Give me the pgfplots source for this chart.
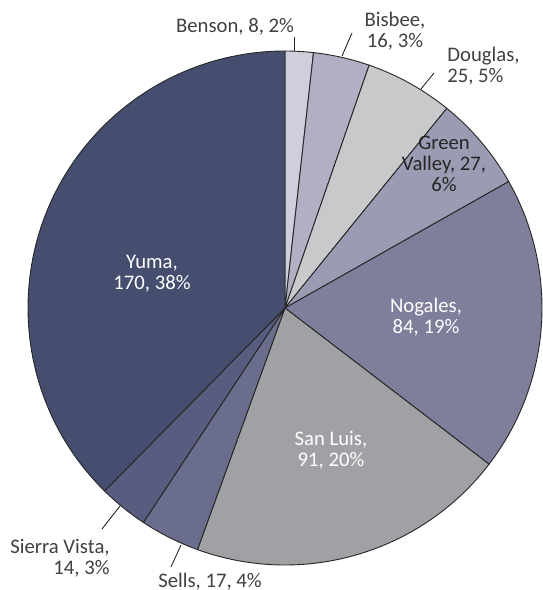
\documentclass[border=0pt]{standalone}
\usepackage{pgfplots}
\pgfplotsset{compat=1.18}
\usepackage{pgfplotstable}
\usepackage{fontspec}
\setmainfont{Carlito}

\definecolor{cBenson}{HTML}{CFCEDD}
\definecolor{cBisbee}{HTML}{B0AFC3}
\definecolor{cDouglas}{HTML}{C8C9CA}
\definecolor{cGreen}{HTML}{9B9BB3}
\definecolor{cNogales}{HTML}{7F7F9C}
\definecolor{cSanLuis}{HTML}{A0A1A4}
\definecolor{cSells}{HTML}{6B6D8C}
\definecolor{cSierra}{HTML}{585C7E}
\definecolor{cYuma}{HTML}{454E6F}
\definecolor{txt}{HTML}{404040}
\definecolor{edge}{HTML}{262626}

% clockwise from 12 o'clock
\pgfplotstableread{
value color
8   cBenson
16  cBisbee
25  cDouglas
27  cGreen
84  cNogales
91  cSanLuis
17  cSells
14  cSierra
170 cYuma
}\piedata

\begin{document}
\begin{tikzpicture}[font=\fontsize{10.35}{10.5}\selectfont]
\begin{axis}[
    name=ax,
    hide axis,
    scale only axis,
    width=271pt, height=295pt,
    xmin=0, xmax=542, ymin=0, ymax=590,
    clip=false,
]
\pgfplotsextra{
  \pgfplotstablegetrowsof{\piedata}
  \pgfmathtruncatemacro{\last}{\pgfplotsretval-1}
  \def\total{0}
  \pgfplotsforeachungrouped \i in {0,...,\last}{
    \pgfplotstablegetelem{\i}{value}\of\piedata
    \pgfmathsetmacro{\total}{\total+\pgfplotsretval}
  }
  \def\cum{0}
  \pgfplotsforeachungrouped \i in {0,...,\last}{
    \pgfplotstablegetelem{\i}{value}\of\piedata
    \let\val\pgfplotsretval
    \pgfplotstablegetelem{\i}{color}\of\piedata
    \edef\col{\pgfplotsretval}
    \pgfmathsetmacro{\a}{90-\cum/\total*360}
    \pgfmathsetmacro{\cum}{\cum+\val}
    \pgfmathsetmacro{\b}{90-\cum/\total*360}
    \fill[\col, draw=edge, line width=0.45pt, line join=round]
      (axis cs:285,282) -- ++(\a:128.5pt)
      arc[start angle=\a, end angle=\b, radius=128.5pt] -- cycle;
  }
}

% leader lines
\draw[edge, line width=0.45pt] (axis cs:294,553) -- (axis cs:294,539);
\draw[edge, line width=0.45pt] (axis cs:352,557) -- (axis cs:342,534);
\draw[edge, line width=0.45pt] (axis cs:434,517) -- (axis cs:421,501);
\draw[edge, line width=0.45pt] (axis cs:120,84) -- (axis cs:102,61);
\draw[edge, line width=0.45pt] (axis cs:181,45) -- (axis cs:171,23);

% labels (anchor at baseline of last line)
\node[txt, anchor=base, inner sep=0pt] at (axis cs:235,557) {Benson, 8, 2\%};
\node[txt, anchor=base, align=center, inner sep=0pt] at (axis cs:395,542) {Bisbee,\\16, 3\%};
\node[txt, anchor=base west, align=left, inner sep=0pt] at (axis cs:447,507) {Douglas,\\25, 5\%};
\node[edge, anchor=base, align=center, inner sep=0pt] at (axis cs:444,398) {Green\\Valley, 27,\\6\%};
\node[white, anchor=base, align=center, inner sep=0pt] at (axis cs:426,256) {Nogales,\\84, 19\%};
\node[white, anchor=base, align=center, inner sep=0pt] at (axis cs:331,123) {San Luis,\\91, 20\%};
\node[white, anchor=base, align=center, inner sep=0pt] at (axis cs:152,300) {Yuma,\\170, 38\%};
\node[txt, anchor=base east, align=right, inner sep=0pt] at (axis cs:110,16) {Sierra Vista,\\14, 3\%};
\node[txt, anchor=base, inner sep=0pt] at (axis cs:210,3) {Sells, 17, 4\%};
\end{axis}
\pgfresetboundingbox
\path (ax.south west) rectangle (ax.north east);
\end{tikzpicture}
\end{document}
